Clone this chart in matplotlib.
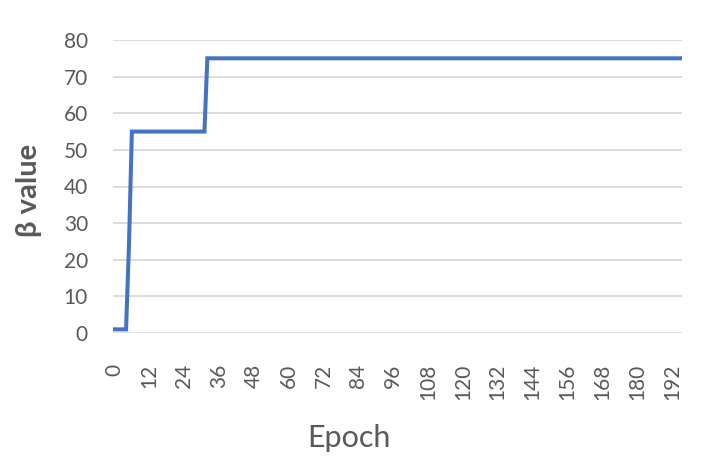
import matplotlib.pyplot as plt
import numpy as np

# beta schedule: value holds from each start epoch on
n_epochs = 196
step_start = [0, 5, 6, 32]
step_value = [1, 24, 55, 75]

x_ticks = list(range(0, 193, 12))
y_ticks = list(range(0, 81, 10))

lengths = np.diff(step_start + [n_epochs])
epochs = np.arange(n_epochs)
beta = np.repeat(step_value, lengths)

plt.rcParams['font.family'] = ['Lato', 'DejaVu Sans']

fig = plt.figure(figsize=(7.04, 4.57), dpi=100)
ax = fig.add_axes([113/704, 1 - 333/457, (682-113)/704, (333-40)/457])

ax.plot(epochs, beta, color='#4472C4', lw=2.9, solid_joinstyle='miter')

ax.set_xlim(-0.5, n_epochs - 0.5)
ax.set_ylim(0, 80)
ax.set_yticks(y_ticks)
ax.set_xticks(x_ticks)
ax.set_xticklabels([str(t) for t in x_ticks], rotation=90, va='top')
ax.grid(axis='y', color='#D9D9D9', lw=1.3)
ax.set_axisbelow(True)
for s in ax.spines.values():
    s.set_visible(False)
ax.tick_params(axis='y', length=0, pad=18, labelsize=15, labelcolor='#595959')
ax.tick_params(axis='x', length=0, pad=22, labelsize=15, labelcolor='#595959')

fig.text(349/704, 1 - 447/457, 'Epoch', ha='center', va='baseline', fontsize=22, color='#595959')
fig.text(29/704, 1 - 190/457, 'β value', ha='center', va='center', rotation=90,
         fontsize=21, fontweight='bold', color='#595959')

fig.savefig('out.png', dpi=100)
